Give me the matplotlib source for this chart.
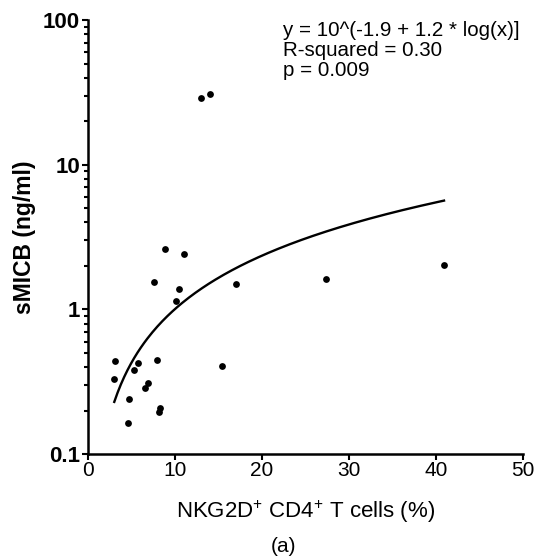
# sMICB vs NKG2D+ CD4+ T cells, log y scatter with power-law fit
import numpy as np
import matplotlib
matplotlib.use('Agg')
import matplotlib.pyplot as plt
from matplotlib.ticker import LogLocator, FixedFormatter, FixedLocator

plt.rcParams['font.family'] = ['Liberation Sans', 'DejaVu Sans']
plt.rcParams['mathtext.fontset'] = 'custom'
plt.rcParams['mathtext.rm'] = 'Liberation Sans'

# data
cd4_pct = [8.8, 11.0, 7.6, 10.4, 10.1, 17.0, 3.1, 2.9, 5.7, 5.2, 7.9,
           6.8, 6.5, 4.7, 8.2, 8.1, 4.5, 15.4, 13.0, 14.0, 27.4, 41.0]
smicb = [2.6, 2.4, 1.55, 1.38, 1.14, 1.51, 0.44, 0.333, 0.425, 0.379, 0.45,
         0.311, 0.286, 0.241, 0.208, 0.197, 0.164, 0.404, 29.0, 30.8, 1.63, 2.02]

# fitted curve as drawn (log10 y = a + b * log10 x)
fit_a = -1.216
fit_b = 1.221
fit_range = (2.97, 40.96)

fit_text = ['y = 10^(-1.9 + 1.2 * log(x)]', 'R-squared = 0.30', 'p = 0.009']
x_ticks = [0, 10, 20, 30, 40, 50]
y_ticks = [0.1, 1, 10, 100]
y_ticklabels = ['0.1', '1', '10', '100']

fig = plt.figure(figsize=(5.37, 5.6), dpi=100)
ax = fig.add_axes([0.1648, 0.189, 0.8082, 0.775])

ax.scatter(cd4_pct, smicb, s=24, color='black', zorder=3, linewidths=0)

xf = np.linspace(fit_range[0], fit_range[1], 200)
ax.plot(xf, 10 ** (fit_a + fit_b * np.log10(xf)), color='black', lw=1.7)

ax.set_yscale('log')
ax.set_xlim(0, 50)
ax.set_ylim(0.1, 100)

ax.xaxis.set_major_locator(FixedLocator(x_ticks))
ax.yaxis.set_major_locator(FixedLocator(y_ticks))
ax.yaxis.set_major_formatter(FixedFormatter(y_ticklabels))
ax.yaxis.set_minor_locator(LogLocator(base=10, subs=np.arange(2, 10)))

for s in ['top', 'right']:
    ax.spines[s].set_visible(False)
for s in ['left', 'bottom']:
    ax.spines[s].set_linewidth(1.8)

ax.tick_params(axis='x', direction='out', length=4, width=1.5, labelsize=15, pad=1)
ax.tick_params(axis='y', which='major', direction='out', length=4, width=1.5, labelsize=16, pad=2)
ax.tick_params(axis='y', which='minor', direction='out', length=3, width=1.5)
for lab in ax.get_yticklabels():
    lab.set_fontweight('bold')

ax.set_ylabel('sMICB (ng/ml)', fontsize=16.5, fontweight='bold', labelpad=5)
ax.set_xlabel('NKG2D$^{+}$ CD4$^{+}$ T cells (%)', fontsize=16, labelpad=13)

for i, line in enumerate(fit_text):
    fig.text(283 / 537, 1 - (31 + 19.5 * i) / 560, line, fontsize=14.8, va='center', ha='left')

fig.text(283 / 537, 1 - 547 / 560, '(a)', fontsize=15, ha='center', va='center')

fig.savefig('out.png', dpi=100)
